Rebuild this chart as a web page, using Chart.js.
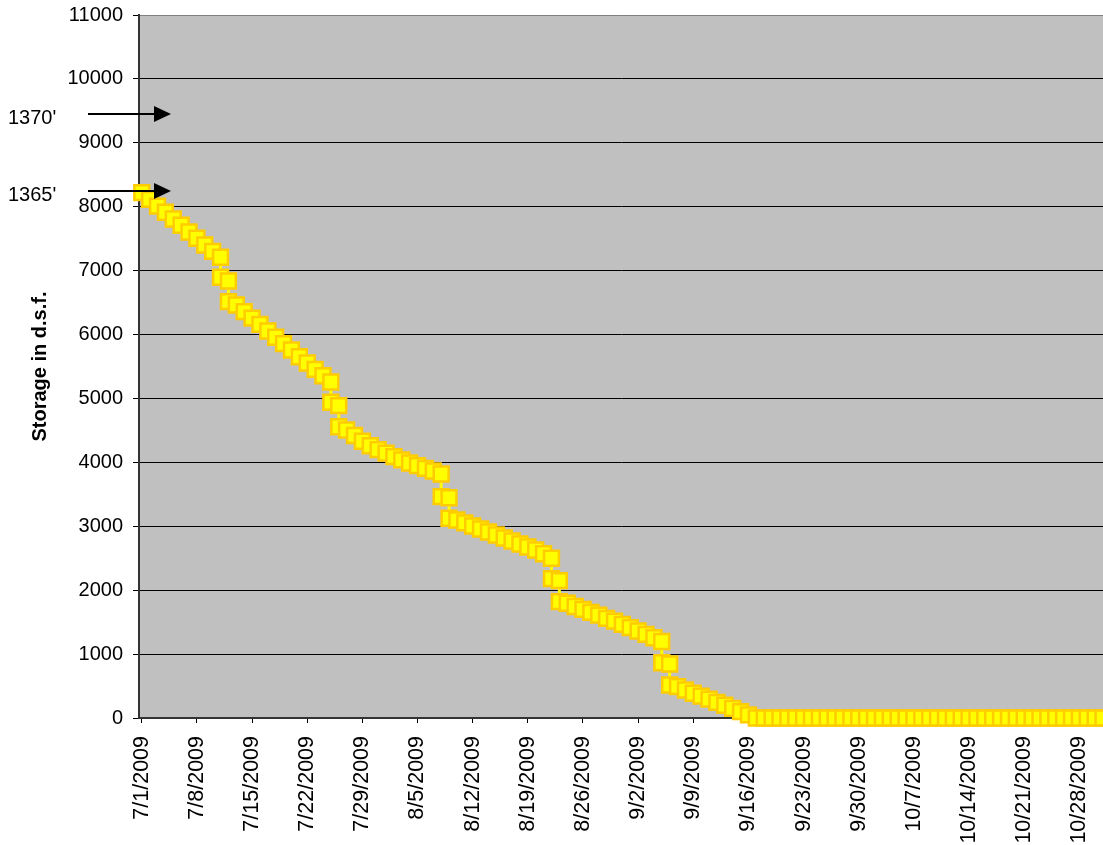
<!DOCTYPE html>
<html>
<head>
<meta charset="utf-8">
<script src="https://cdn.jsdelivr.net/npm/chart.js@4.4.1/dist/chart.umd.min.js"></script>
<style>
  html, body { margin: 0; padding: 0; background: #fff; overflow: hidden; }
  #storageChart { display: block; }
</style>
</head>
<body>
<!-- a little wider than the window: the plot runs off the right edge like the original -->
<canvas id="storageChart" width="1116" height="845"></canvas>
<script>
// ================== DATA ==================
// Day of season (0 = 7/1/2009); days with a release drop have two readings
const dayOfSeason = [
  0, 1, 2, 3, 4, 5, 6, 7, 8, 9, 10, 10, 11, 11,
  12, 13, 14, 15, 16, 17, 18, 19, 20, 21, 22, 23, 24, 24, 25, 25,
  26, 27, 28, 29, 30, 31, 32, 33, 34, 35, 36, 37, 38, 38, 39, 39,
  40, 41, 42, 43, 44, 45, 46, 47, 48, 49, 50, 51, 52, 52, 53, 53,
  54, 55, 56, 57, 58, 59, 60, 61, 62, 63, 64, 65, 66, 66, 67, 67,
  68, 69, 70, 71, 72, 73, 74, 75, 76, 77,
  78, 79, 80, 81, 82, 83, 84, 85, 86, 87, 88, 89, 90, 91, 92, 93, 94, 95, 96, 97,
  98, 99, 100, 101, 102, 103, 104, 105, 106, 107, 108, 109, 110, 111, 112, 113,
  114, 115, 116, 117, 118, 119, 120, 121, 122
];

// Storage in d.s.f.
const storage = [
  8220, 8116, 8010, 7913, 7808, 7710, 7605, 7506, 7401, 7302, 7209, 6896, 6838, 6514,
  6462, 6358, 6258, 6160, 6056, 5957, 5857, 5758, 5653, 5555, 5456, 5356, 5258, 4940, 4887, 4558,
  4506, 4420, 4330, 4260, 4200, 4145, 4090, 4040, 3990, 3948, 3907, 3865, 3818, 3463, 3447, 3125,
  3098, 3052, 3004, 2958, 2910, 2864, 2816, 2770, 2722, 2676, 2628, 2570, 2499, 2180, 2149, 1820,
  1795, 1745, 1700, 1653, 1610, 1560, 1515, 1466, 1413, 1361, 1309, 1255, 1197, 865, 845, 516,
  490, 438, 388, 342, 295, 245, 200, 150, 100, 48,
  0, 0, 0, 0, 0, 0, 0, 0, 0, 0, 0, 0, 0, 0, 0, 0, 0, 0, 0, 0,
  0, 0, 0, 0, 0, 0, 0, 0, 0, 0, 0, 0, 0, 0, 0, 0,
  0, 0, 0, 0, 0, 0, 0, 0, 0
];

// x axis tick labels (weekly)
const tickDays = [0, 7, 14, 21, 28, 35, 42, 49, 56, 63, 70, 77, 84, 91, 98, 105, 112, 119];
const tickLabels = [
  '7/1/2009', '7/8/2009', '7/15/2009', '7/22/2009', '7/29/2009', '8/5/2009',
  '8/12/2009', '8/19/2009', '8/26/2009', '9/2/2009', '9/9/2009', '9/16/2009',
  '9/23/2009', '9/30/2009', '10/7/2009', '10/14/2009', '10/21/2009', '10/28/2009'
];

// Elevation marks on the storage axis
const elevationLabels = ["1370'", "1365'"];
const elevationStorage = [9450, 8245];

// ================== CHART ==================
const FONT = "'Liberation Sans', Arial, sans-serif";

// gray plot area
const plotBackground = {
    id: 'plotBackground',
    beforeDraw(chart) {
        const { ctx, chartArea: a } = chart;
        ctx.save();
        ctx.fillStyle = '#C0C0C0';
        ctx.fillRect(a.left, a.top, a.right - a.left, a.bottom - a.top);
        ctx.restore();
    }
};

// Arrows + elevation text left of the plot
const elevationArrows = {
    id: 'elevationArrows',
    afterDraw(chart) {
        const { ctx, scales: { y } } = chart;
        ctx.save();
        ctx.fillStyle = '#000';
        ctx.strokeStyle = '#000';
        ctx.lineWidth = 2;
        ctx.font = '20px ' + FONT;
        ctx.textAlign = 'left';
        ctx.textBaseline = 'middle';
        elevationLabels.forEach((label, i) => {
            const py = Math.round(y.getPixelForValue(elevationStorage[i]));
            ctx.beginPath();
            ctx.moveTo(88, py);
            ctx.lineTo(156, py);
            ctx.stroke();
            ctx.beginPath();
            ctx.moveTo(154, py - 8);
            ctx.lineTo(171, py);
            ctx.lineTo(154, py + 8);
            ctx.closePath();
            ctx.fill();
            ctx.fillText(label, 8, py + 4);
        });
        ctx.restore();
    }
};

const points = dayOfSeason.map((d, i) => ({ x: d, y: storage[i] }));

new Chart(document.getElementById('storageChart'), {
    type: 'line',
    data: {
        datasets: [{
            label: 'Storage',
            data: points,
            borderColor: '#FFFF00',
            borderWidth: 3,
            tension: 0,
            pointStyle: 'rect',
            pointRadius: 10.5,
            pointBackgroundColor: '#FFFF00',
            pointBorderColor: '#FFCC00',
            pointBorderWidth: 2.5,
            clip: false
        }]
    },
    options: {
        responsive: false,
        animation: false,
        layout: { padding: { top: 15, right: 0, left: 0, bottom: 0 } },
        plugins: {
            legend: { display: false },
            tooltip: { enabled: false }
        },
        scales: {
            x: {
                type: 'linear',
                min: -0.35,
                max: 122,
                afterBuildTicks: (scale) => {
                    scale.ticks = tickDays.map(v => ({ value: v }));
                },
                afterFit: (scale) => {
                    scale.height = 127;
                    scale.paddingLeft = 0;
                    scale.paddingRight = 0;
                },
                grid: { drawOnChartArea: false, drawTicks: true, tickLength: 5, tickColor: '#000' },
                border: { color: '#333', width: 2 },
                ticks: {
                    autoSkip: false,
                    minRotation: 90,
                    maxRotation: 90,
                    padding: 13,
                    color: '#000',
                    font: { family: FONT, size: 21.5 },
                    callback: (value) => tickLabels[tickDays.indexOf(value)]
                }
            },
            y: {
                min: 0,
                max: 11000,
                afterFit: (scale) => {
                    scale.width = 139;
                    scale.paddingTop = 0;
                    scale.paddingBottom = 0;
                },
                grid: {
                    color: (c) => (c.tick && c.tick.value === 11000 ? '#808080' : '#000'),
                    lineWidth: 1,
                    tickLength: 6,
                    tickColor: '#000'
                },
                border: { color: '#333', width: 2 },
                ticks: {
                    stepSize: 1000,
                    padding: 10,
                    color: '#000',
                    font: { family: FONT, size: 20 },
                    callback: (value) => String(value)
                },
                title: {
                    display: true,
                    text: 'Storage in d.s.f.',
                    color: '#000',
                    padding: { top: 28, bottom: 0 },
                    font: { family: FONT, size: 20, weight: 'bold' }
                }
            }
        }
    },
    plugins: [plotBackground, elevationArrows]
});
</script>
</body>
</html>
